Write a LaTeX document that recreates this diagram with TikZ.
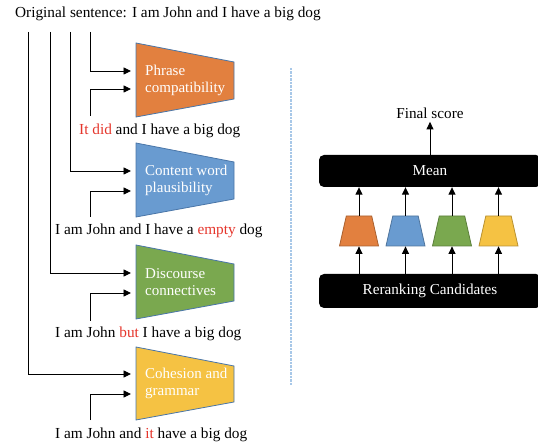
\documentclass[tikz,border=0pt]{standalone}
\usepackage{fontspec}
\setmainfont{Liberation Serif}
\usetikzlibrary{arrows.meta,shapes.geometric}

\definecolor{modorange}{HTML}{E2803F}
\definecolor{modblue}{HTML}{699BD0}
\definecolor{modgreen}{HTML}{7AA84F}
\definecolor{modyellow}{HTML}{F5C243}
\definecolor{modedge}{HTML}{4A76A8}
\definecolor{hl}{HTML}{E5352B}
\definecolor{sepblue}{HTML}{A8C8E8}

\tikzset{
  line/.style={draw=black, line width=0.9pt},
  arr/.style={line, -{Triangle[length=7.5pt,width=7pt]}},
  sent/.style={anchor=base west, inner sep=0pt, font=\fontsize{15.3}{18}\selectfont},
  modtext/.style={anchor=west, align=left, inner sep=0pt, text=white,
    font=\fontsize{15}{17}\selectfont},
  module/.style={fill=#1, draw=modedge, line width=0.8pt},
  bar/.style={fill=black, rounded corners=5pt, minimum width=222pt, text=white,
    inner sep=0pt, font=\fontsize{15.2}{18}\selectfont},
  mini/.style={trapezium, trapezium stretches=true, trapezium angle=75,
    minimum width=39pt, minimum height=30pt, inner sep=2pt,
    fill=#1, draw=#1!75!black, line width=0.8pt}
}

\begin{document}
\begin{tikzpicture}[x=1pt, y=-1pt]
\useasboundingbox (0,0) rectangle (538,443);

% Original sentence
\node [sent] (orig) at (15,18) {Original sentence: I am John and I have a big dog};
\coordinate (v1) at (28,32);
\coordinate (v2) at (50,32);
\coordinate (v3) at (70,32);
\coordinate (v4) at (90,32);

% Module 1
\filldraw [module=modorange] (136,43) -- (234,62) -- (234,99) -- (136,117) -- cycle;
\node [modtext] (m1) at (145,80) {Phrase\\compatibility};
\coordinate (m1a) at (131,71);
\coordinate (m1b) at (131,89);
\node [sent] (c1) at (79,135) {{\color{hl}It did} and I have a big dog};
\coordinate (c1s) at (90,116);
\draw [arr] (v4) |- (m1a);
\draw [arr] (c1s) |- (m1b);

% Module 2
\filldraw [module=modblue] (136,143) -- (234,162) -- (234,199) -- (136,217) -- cycle;
\node [modtext] (m2) at (145,180) {Content word\\plausibility};
\coordinate (m2a) at (131,171);
\coordinate (m2b) at (131,191);
\node [sent] (c2) at (55,235) {I am John and I have a {\color{hl}empty} dog};
\coordinate (c2s) at (90,217);
\draw [arr] (v3) |- (m2a);
\draw [arr] (c2s) |- (m2b);

% Module 3
\filldraw [module=modgreen] (136,245) -- (234,264) -- (234,301) -- (136,319) -- cycle;
\node [modtext] (m3) at (145,282) {Discourse\\connectives};
\coordinate (m3a) at (131,273);
\coordinate (m3b) at (131,293);
\node [sent] (c3) at (55,338) {I am John {\color{hl}but} I have a big dog};
\coordinate (c3s) at (90,321);
\draw [arr] (v2) |- (m3a);
\draw [arr] (c3s) |- (m3b);

% Module 4
\filldraw [module=modyellow] (136,347) -- (234,366) -- (234,402) -- (136,420) -- cycle;
\node [modtext] (m4) at (145,383) {Cohesion and\\grammar};
\coordinate (m4a) at (131,374);
\coordinate (m4b) at (131,394);
\node [sent] (c4) at (55,438) {I am John and {\color{hl}it} have a big dog};
\coordinate (c4s) at (90,420);
\draw [arr] (v1) |- (m4a);
\draw [arr] (c4s) |- (m4b);

% Separator
\coordinate (sepT) at (291,68);
\coordinate (sepB) at (291,385);
\draw [sepblue, line width=2.2pt, dash pattern=on 2.5pt off 1pt] (sepT) -- (sepB);

% Ensemble
\node [bar, minimum height=32pt] (mean) at (430,171) {Mean};
\node [bar, minimum height=34pt] (rr) at (430,291) {Reranking Candidates};
\node [font=\fontsize{15.2}{18}\selectfont] (final) at (430,113) {Final score};
\draw [arr] (mean) -- (final.south);

\node [mini=modorange] (q1) at (359,231) {};
\node [mini=modblue] (q2) at (405.5,231) {};
\node [mini=modgreen] (q3) at (452,231) {};
\node [mini=modyellow] (q4) at (498.5,231) {};

\draw [arr] (rr.north -| q1) -- (q1.south);
\draw [arr] (rr.north -| q2) -- (q2.south);
\draw [arr] (rr.north -| q3) -- (q3.south);
\draw [arr] (rr.north -| q4) -- (q4.south);
\draw [arr] (q1.north) -- (mean.south -| q1);
\draw [arr] (q2.north) -- (mean.south -| q2);
\draw [arr] (q3.north) -- (mean.south -| q3);
\draw [arr] (q4.north) -- (mean.south -| q4);
\end{tikzpicture}
\end{document}
